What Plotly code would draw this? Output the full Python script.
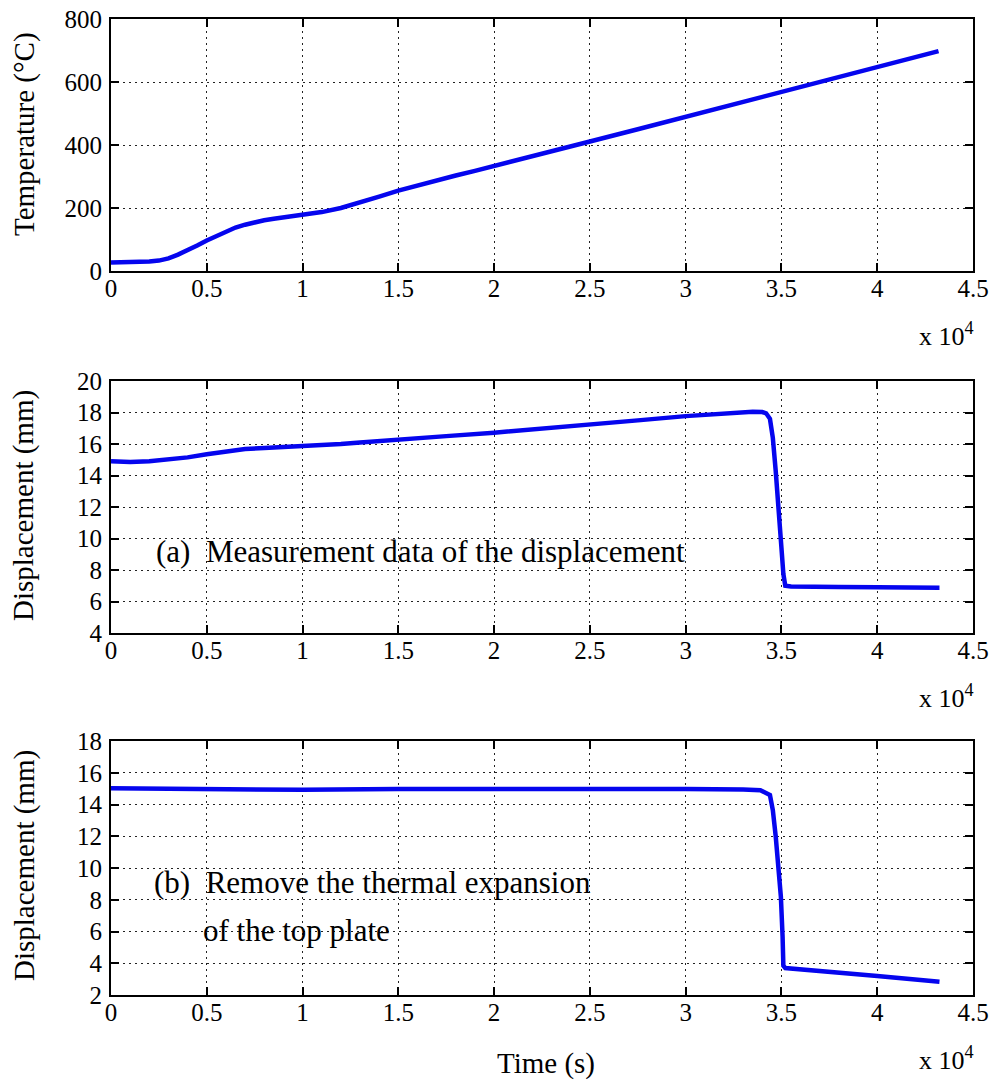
import plotly.graph_objects as go

W, H = 995, 1082

# Furnace temperature record
time_temp = [0, 1000, 2000, 2500, 3000, 3500, 4000, 4500, 5000, 5500, 6000, 6500,
             7000, 7500, 8000, 8500, 9000, 10000, 11000, 12000, 13000, 14000, 15000,
             16000, 17000, 18000, 19000, 20000, 22500, 25000, 27500, 30000, 32500,
             35000, 37500, 40000, 42000, 43200]
temperature = [27, 27, 30, 33, 40, 52, 65, 81, 97, 112, 126, 138,
               147, 155, 161, 166, 170, 178, 187, 200, 217, 236, 255,
               272, 288, 303, 318, 333, 372, 411, 450, 489, 528,
               567, 607, 647, 679, 698]

# (a) measured displacement
time_meas = [0, 1000, 2000, 3000, 4000, 5000, 6000, 7000, 8000, 9000, 10000, 11000,
             12000, 13000, 14000, 15000, 17500, 20000, 22500, 25000, 27500, 30000,
             31000, 32000, 33000, 33500, 34000, 34200, 34400, 34550, 34700, 34880,
             35000, 35100, 35200, 35500, 36000, 38000, 40000, 42000, 43250]
disp_measured = [14.9, 14.85, 14.9, 15.0, 15.15, 15.35, 15.55, 15.68, 15.75, 15.8, 15.85, 15.92,
                 16.0, 16.1, 16.2, 16.3, 16.5, 16.72, 16.96, 17.22, 17.5, 17.77,
                 17.86, 17.94, 18.03, 18.05, 18.03, 17.95, 17.6, 16.4, 14.3, 11.75,
                 9.4, 7.75, 7.0, 6.95, 6.93, 6.92, 6.9, 6.88, 6.88]

# (b) displacement with the top plate's thermal expansion removed
time_corr = [0, 5000, 10000, 15000, 20000, 25000, 30000, 33000, 33900, 34400, 34550,
             34700, 34880, 34970, 35060, 35100, 35200, 37700, 40000, 43250]
disp_corrected = [15.02, 14.97, 14.93, 14.97, 14.99, 14.99, 14.98, 14.95, 14.9, 14.6, 13.65,
                  12.0, 9.9, 8.2, 5.67, 3.85, 3.7, 3.47, 3.2, 2.84]

x_tick_vals = [0, 5000, 10000, 15000, 20000, 25000, 30000, 35000, 40000, 45000]
x_tick_text = ["0", "0.5", "1", "1.5", "2", "2.5", "3", "3.5", "4", "4.5"]
temp_ticks = [0, 200, 400, 600, 800]
disp_a_ticks = [4, 6, 8, 10, 12, 14, 16, 18, 20]
disp_b_ticks = [2, 4, 6, 8, 10, 12, 14, 16, 18]

FONT = "Liberation Serif"
LINE_COLOR = "#0505ee"

# panel frames in pixels: (top, bottom); shared left/right edges
LEFT, RIGHT = 111, 973
panels = [(19, 271), (381, 633), (741, 995)]


def fx(p):
    return p / W


def fy(p):
    return 1 - p / H


fig = go.Figure()

series = [(time_temp, temperature), (time_meas, disp_measured), (time_corr, disp_corrected)]
for i, (t, v) in enumerate(series):
    suffix = "" if i == 0 else str(i + 1)
    fig.add_trace(go.Scatter(x=t, y=v, mode="lines", xaxis="x" + suffix, yaxis="y" + suffix,
                             line=dict(color=LINE_COLOR, width=4.5), showlegend=False,
                             hoverinfo="skip"))

axis_common = dict(
    showline=True, linecolor="black", linewidth=2, mirror="allticks",
    ticks="inside", ticklen=8, tickwidth=2, tickcolor="black",
    showgrid=True, gridcolor="#222222", gridwidth=1, griddash="1.5px,4.5px",
    zeroline=False, automargin=False,
    tickfont=dict(family=FONT, size=25, color="black"),
)

y_ranges = [(0, 800, temp_ticks), (4, 20, disp_a_ticks), (2, 18, disp_b_ticks)]
layout_axes = {}
for i, ((top, bottom), (lo, hi, yt)) in enumerate(zip(panels, y_ranges)):
    suffix = "" if i == 0 else str(i + 1)
    layout_axes["xaxis" + suffix] = dict(
        axis_common, domain=[fx(LEFT), fx(RIGHT)], range=[0, 45000],
        tickmode="array", tickvals=x_tick_vals, ticktext=x_tick_text,
        anchor="y" + suffix, ticklabelstandoff=-6,
    )
    layout_axes["yaxis" + suffix] = dict(
        axis_common, domain=[fy(bottom), fy(top)], range=[lo, hi],
        tickmode="array", tickvals=yt, ticktext=[str(v) for v in yt],
        anchor="x" + suffix, ticklabelstandoff=2,
    )

annotations = []
# axis titles
titles = [("Temperature (°C)", 134), ("Displacement (mm)", 506), ("Displacement (mm)", 866)]
for text, yc in titles:
    annotations.append(dict(text=text, x=fx(24), y=fy(yc), xref="paper", yref="paper",
                            textangle=-90, showarrow=False, xanchor="center", yanchor="middle",
                            font=dict(family=FONT, size=29, color="black")))
annotations.append(dict(text="Time (s)", x=fx(546), y=fy(1063), xref="paper", yref="paper",
                        showarrow=False, xanchor="center", yanchor="middle",
                        font=dict(family=FONT, size=29, color="black")))
# x-axis multiplier under each panel
for top, bottom in panels:
    annotations.append(dict(text="x 10<sup>4</sup>", x=fx(976), y=fy(bottom + 63), xref="paper",
                            yref="paper", showarrow=False, xanchor="right", yanchor="middle",
                            font=dict(family=FONT, size=26, color="black")))
# panel notes
notes = [("(a)\u00a0\u00a0Measurement data of the displacement", 154, 551),
         ("(b)\u00a0\u00a0Remove the thermal expansion", 152, 882),
         ("of the top plate", 201, 930)]
for text, x0, yc in notes:
    annotations.append(dict(text=text, x=fx(x0), y=fy(yc), xref="paper", yref="paper",
                            showarrow=False, xanchor="left", yanchor="middle",
                            font=dict(family=FONT, size=31, color="black")))

fig.update_layout(
    width=W, height=H, margin=dict(l=0, r=0, t=0, b=0, autoexpand=False),
    paper_bgcolor="white", plot_bgcolor="white",
    annotations=annotations, **layout_axes,
)

fig.write_html("out.html")
